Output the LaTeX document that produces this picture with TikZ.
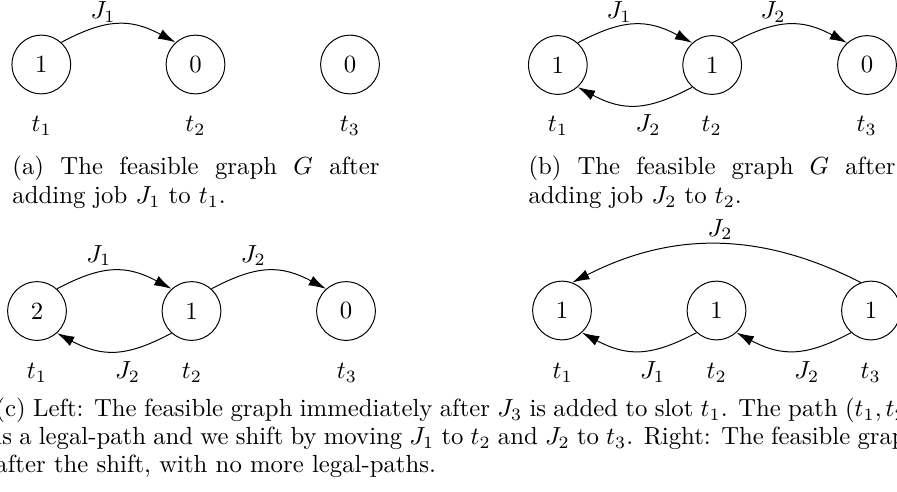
\documentclass[tikz,border=0pt]{standalone}
\usetikzlibrary{arrows.meta}
\begin{document}
\begin{tikzpicture}[x=0.404pt,y=0.404pt,
  slot/.style={circle,draw,line width=0.4pt,minimum size=23.7pt,inner sep=0pt},
  lab/.style={anchor=base,inner sep=0pt},
  jobarc/.style={line width=0.4pt,-{Latex[length=7pt,width=4.2pt]}},
  captext/.style={anchor=base west,inner sep=0pt}
]
\useasboundingbox (0,0) rectangle (897,-491);
\clip (0,0) rectangle (897,-491);

% ---------- (a) ----------
\node[slot] (a1) at (41.3,-64.5) {1};
\node[slot] (a2) at (195.5,-64.5) {0};
\node[slot] (a3) at (350,-64.5) {0};
\node[lab] (at1) at (41.7,-131.5) {$t_1$};
\node[lab] (at2) at (195.5,-131.5) {$t_2$};
\node[lab] (at3) at (350,-131.5) {$t_3$};
\draw[jobarc] (a1.48) to[out=28,in=152,looseness=1.15] (a2.132);
\node[lab] (aJ1) at (103,-18.5) {$J_1$};
\node[captext] (acap) at (12,-174) {\parbox[t]{148.3pt}{(a) The feasible graph $G$ after\linebreak adding job $J_1$ to $t_1$.}};

% ---------- (b) ----------
\node[slot] (b1) at (557.8,-65) {1};
\node[slot] (b2) at (712.2,-65) {1};
\node[slot] (b3) at (867,-65) {0};
\node[lab] (bt1) at (558,-131.5) {$t_1$};
\node[lab] (bt2) at (711.7,-131.5) {$t_2$};
\node[lab] (bt3) at (866.7,-131.5) {$t_3$};
\draw[jobarc] (b1.48) to[out=28,in=152,looseness=1.15] (b2.132);
\draw[jobarc] (b2.48) to[out=28,in=152,looseness=1.15] (b3.132);
\draw[jobarc] (b2.-132) to[out=-152,in=-28,looseness=1.15] (b1.-48);
\node[lab] (bJ1) at (619,-18.5) {$J_1$};
\node[lab] (bJ2) at (773,-18.5) {$J_2$};
\node[lab] (bJ2b) at (648,-131.5) {$J_2$};
\node[captext] (bcap) at (528,-174) {\parbox[t]{148.3pt}{(b) The feasible graph $G$ after\linebreak adding job $J_2$ to $t_2$.}};

% ---------- (c) left ----------
\node[slot] (c1) at (37,-311) {2};
\node[slot] (c2) at (191.5,-311) {1};
\node[slot] (c3) at (346,-311) {0};
\node[lab] (ct1) at (37,-378.5) {$t_1$};
\node[lab] (ct2) at (192,-378.5) {$t_2$};
\node[lab] (ct3) at (347,-378.5) {$t_3$};
\draw[jobarc] (c1.48) to[out=28,in=152,looseness=1.15] (c2.132);
\draw[jobarc] (c2.48) to[out=28,in=152,looseness=1.15] (c3.132);
\draw[jobarc] (c2.-132) to[out=-152,in=-28,looseness=1.15] (c1.-48);
\node[lab] (cJ1) at (98.7,-262) {$J_1$};
\node[lab] (cJ2) at (253.3,-262) {$J_2$};
\node[lab] (cJ2b) at (127.5,-378.5) {$J_2$};

% ---------- (c) right ----------
\node[slot] (d1) at (562,-310.5) {1};
\node[slot] (d2) at (716.5,-310.5) {1};
\node[slot] (d3) at (871,-310.5) {1};
\node[lab] (dt1) at (562.7,-378.5) {$t_1$};
\node[lab] (dt2) at (716.7,-378.5) {$t_2$};
\node[lab] (dt3) at (870.7,-378.5) {$t_3$};
\draw[jobarc] (d3.110) to[out=153,in=27,looseness=1] (d1.70);
\draw[jobarc] (d2.-132) to[out=-152,in=-28,looseness=1.15] (d1.-48);
\draw[jobarc] (d3.-132) to[out=-152,in=-28,looseness=1.15] (d2.-48);
\node[lab] (dJ2) at (720,-236) {$J_2$};
\node[lab] (dJ1b) at (652.5,-378.5) {$J_1$};
\node[lab] (dJ2b) at (806.7,-378.5) {$J_2$};

% ---------- caption (c) ----------
\node[captext] (ccap1) at (-5,-416.5) {\makebox[384.2pt][s]{(c) Left: The feasible graph immediately after $J_3$ is added to slot $t_1$. The path $(t_1,t_2,t_3)$}};
\node[captext] (ccap2) at (-5,-444.5) {\makebox[373.3pt][s]{is a legal-path and we shift by moving $J_1$ to $t_2$ and $J_2$ to $t_3$. Right: The feasible graph}};
\node[captext] (ccap3) at (-5,-472.5) {after the shift, with no more legal-paths.};
\end{tikzpicture}
\end{document}
